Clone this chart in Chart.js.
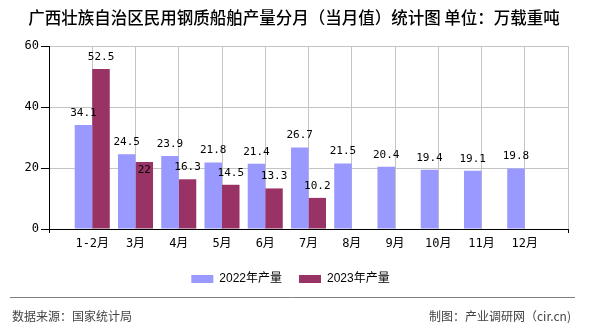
<!DOCTYPE html>
<html>
<head>
<meta charset="utf-8">
<script src="https://cdn.jsdelivr.net/npm/chart.js@4.4.0/dist/chart.umd.min.js"></script>
<style>
html,body{margin:0;padding:0;background:#fff;}
#wrap{position:relative;width:590px;height:330px;}
</style>
</head>
<body>
<div id="wrap"><canvas id="c" width="590" height="330"></canvas></div>
<script>
const title = '广西壮族自治区民用钢质船舶产量分月（当月值）统计图 单位：万载重吨';
const categories = ['1-2月','3月','4月','5月','6月','7月','8月','9月','10月','11月','12月'];
const series2022Name = '2022年产量';
const series2023Name = '2023年产量';
const values2022 = [34.1, 24.5, 23.9, 21.8, 21.4, 26.7, 21.5, 20.4, 19.4, 19.1, 19.8];
const values2023 = [52.5, 22, 16.3, 14.5, 13.3, 10.2, null, null, null, null, null];
const yTicks = [0, 20, 40, 60];
const sourceText = '数据来源：国家统计局';
const creditText = '制图：产业调研网（cir.cn)';

const labels = [''].concat(categories, ['']);
const d2022 = [null].concat(values2022, [null]);
const d2023 = [null].concat(values2023, [null]);

const monoFont = '"DejaVu Sans Mono", "Noto Sans CJK SC", monospace';
const cjkFont = '"Noto Sans CJK SC", sans-serif';

const valueLabels = {
  id: 'valueLabels',
  afterDatasetsDraw(chart) {
    const ctx = chart.ctx;
    ctx.save();
    ctx.font = '11px ' + monoFont;
    ctx.fillStyle = '#000';
    ctx.textAlign = 'center';
    ctx.textBaseline = 'middle';
    const boxes = [];
    chart.data.datasets.forEach((ds, di) => {
      const meta = chart.getDatasetMeta(di);
      meta.data.forEach((el, i) => {
        const v = ds.data[i];
        if (v === null || v === undefined) return;
        const txt = String(v);
        const w = ctx.measureText(txt).width;
        let cy = el.y - 12;
        let box = {x1: el.x - w/2, x2: el.x + w/2, y1: cy - 5, y2: cy + 5};
        const hit = boxes.some(b => box.x1 < b.x2 + 2 && box.x2 > b.x1 - 2 && box.y1 < b.y2 + 2 && box.y2 > b.y1 - 2);
        if (hit) {
          cy = el.y + 8;
          box = {x1: el.x - w/2, x2: el.x + w/2, y1: cy - 5, y2: cy + 5};
        }
        boxes.push(box);
        ctx.fillText(txt, el.x, cy);
      });
    });
    ctx.restore();
  }
};

const decorations = {
  id: 'decorations',
  afterDraw(chart) {
    const ctx = chart.ctx;
    ctx.save();
    ctx.fillStyle = '#000';
    ctx.font = '500 16.5px ' + cjkFont;
    ctx.textAlign = 'center';
    ctx.textBaseline = 'middle';
    ctx.fillText(title, 294, 18);
    ctx.strokeStyle = '#808080';
    ctx.lineWidth = 1;
    ctx.beginPath();
    ctx.moveTo(10, 297.5);
    ctx.lineTo(575, 297.5);
    ctx.stroke();
    ctx.fillStyle = '#444';
    ctx.font = '12px ' + cjkFont;
    ctx.textAlign = 'left';
    ctx.fillText(sourceText, 12, 316);
    ctx.textAlign = 'right';
    ctx.fillText(creditText, 571, 316);
    ctx.restore();
  }
};

new Chart(document.getElementById('c'), {
  type: 'bar',
  data: {
    labels: labels,
    datasets: [
      {label: series2022Name, data: d2022, backgroundColor: '#9999ff', categoryPercentage: 0.81, barPercentage: 1.0},
      {label: series2023Name, data: d2023, backgroundColor: '#993366', categoryPercentage: 0.81, barPercentage: 1.0}
    ]
  },
  options: {
    responsive: false,
    animation: false,
    devicePixelRatio: 1,
    layout: {padding: {top: 46, right: 9, left: 0, bottom: 35}},
    plugins: {
      tooltip: {enabled: false},
      title: {display: false},
      legend: {
        position: 'bottom',
        labels: {
          boxWidth: 22, boxHeight: 8, padding: 17,
          color: '#000',
          font: {size: 12, family: '"Liberation Sans", "Noto Sans CJK SC", sans-serif'}
        }
      }
    },
    scales: {
      x: {
        offset: false,
        grid: {
          offset: false,
          color: '#c4c4c4',
          drawTicks: true,
          tickLength: 4,
          tickColor: (c) => (c.index === 0 || c.index === labels.length - 1) ? '#000' : 'rgba(0,0,0,0)'
        },
        border: {color: '#000', width: 1},
        ticks: {color: '#000', font: {size: 12, family: monoFont}, padding: 4, maxRotation: 0, autoSkip: false},
        afterFit: (s) => { s.height = 27; }
      },
      y: {
        min: 0, max: 60,
        afterBuildTicks: (s) => { s.ticks = yTicks.map(v => ({value: v})); },
        grid: {color: '#c4c4c4', tickLength: 8, tickColor: '#000'},
        border: {color: '#000', width: 1},
        ticks: {color: '#000', font: {size: 12, family: monoFont}, padding: 2},
        afterFit: (s) => { s.width = 49; }
      },
      y2: {
        position: 'right',
        display: true,
        grid: {display: false, drawTicks: false},
        border: {display: false},
        ticks: {display: false},
        afterFit: (s) => { s.width = 13; }
      }
    }
  },
  plugins: [valueLabels, decorations]
});
</script>
</body>
</html>
